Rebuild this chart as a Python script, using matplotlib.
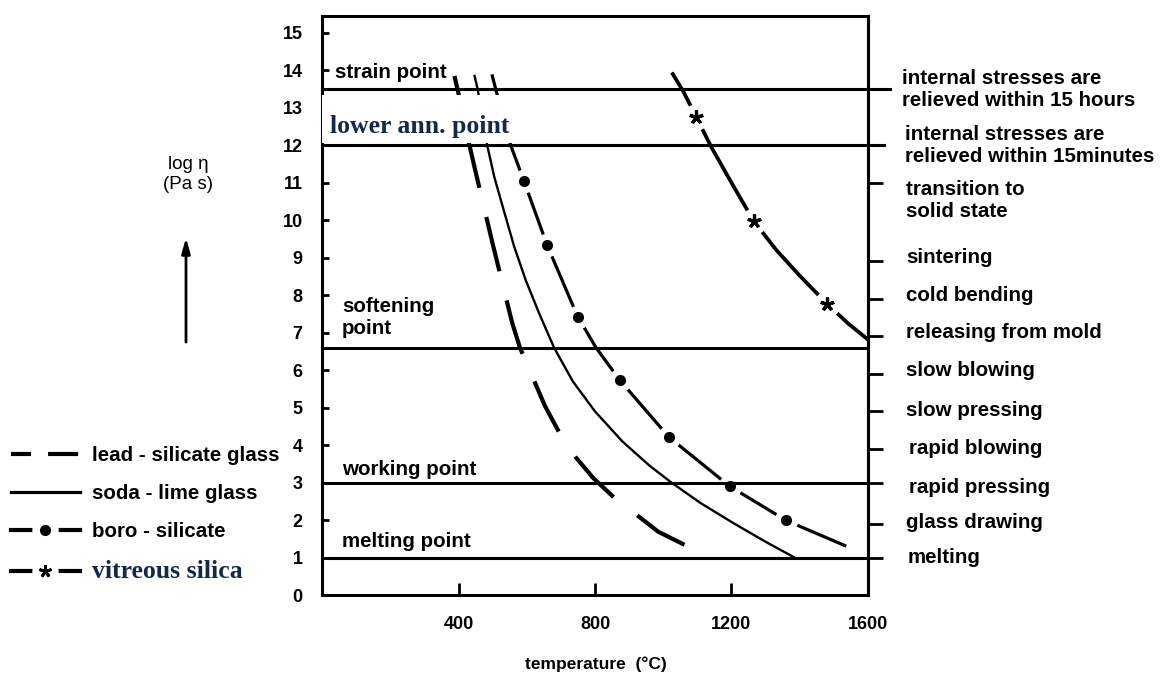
import matplotlib
matplotlib.use('Agg')
import matplotlib.pyplot as plt
from matplotlib.lines import Line2D
from matplotlib.legend_handler import HandlerTuple

plt.rcParams['font.family'] = ['Liberation Sans', 'DejaVu Sans']

# fixed viscosity points, log eta (Pa s)
ref_levels = [13.5, 12.0, 6.6, 3.0, 1.0]

# viscosity curves: temperature (C) vs log eta
lead_T = [388, 397, 432, 447, 499, 557, 580, 653, 695, 744, 795, 850, 985, 1126]
lead_v = [13.85, 13.5, 12.0, 11.41, 9.41, 7.27, 6.6, 5.05, 4.34, 3.67, 3.12, 2.65, 1.69, 1.05]
soda_T = [447, 456, 484, 505, 533, 563, 597, 637, 680, 735, 800, 880, 960, 1024,
          1110, 1209, 1300, 1385]
soda_v = [13.85, 13.5, 12.0, 11.15, 10.25, 9.3, 8.4, 7.5, 6.6, 5.7, 4.9, 4.1, 3.45, 3.0,
          2.45, 1.9, 1.42, 1.0]
boro_T = [499, 509, 553, 592, 659, 749, 803, 872, 1017, 1195, 1360, 1532]
boro_v = [13.85, 13.5, 12.0, 11.04, 9.35, 7.43, 6.6, 5.74, 4.21, 2.9, 1.99, 1.32]
boro_marks = [3, 4, 5, 7, 8, 9, 10]
silica_T = [1028, 1058, 1097, 1141, 1200, 1265, 1330, 1400, 1480, 1540, 1602]
silica_v = [13.9, 13.45, 12.75, 11.95, 11.0, 9.98, 9.22, 8.52, 7.77, 7.26, 6.8]
silica_marks = [2, 5, 8]

# processes on the right hand side
proc_ticks = [13.5, 12.0, 11.0, 8.9, 7.9, 6.9, 5.9, 4.9, 3.9, 3.0, 1.9, 1.0]
proc_labels = ['internal stresses are\nrelieved within 15 hours',
               'internal stresses are\nrelieved within 15minutes',
               'transition to\nsolid state', 'sintering', 'cold bending',
               'releasing from mold', 'slow blowing', 'slow pressing',
               'rapid blowing', 'rapid pressing', 'glass drawing', 'melting']
proc_y = [13.5, 12.0, 10.52, 9.0, 8.0, 7.0, 6.0, 4.92, 3.9, 2.87, 1.93, 1.0]
proc_x = [1.062, 1.068, 1.07, 1.07, 1.07, 1.07, 1.07, 1.07, 1.075, 1.075, 1.07, 1.072]

legend_labels = ['lead - silicate glass', 'soda - lime glass', 'boro - silicate',
                 'vitreous silica']

fs = 14.8
fig = plt.figure(figsize=(11.66, 6.75), dpi=100)
ax = fig.add_axes([0.2762, 0.1185, 0.4682, 0.8578])
ax.set_xlim(0, 1600)
ax.set_ylim(0, 15.45)

# curves
ax.plot(lead_T, lead_v, color='k', lw=3, ls=(6.5, (13.4, 7.2)), zorder=2)
ax.plot(soda_T, soda_v, color='k', lw=1.7, zorder=2)
ax.plot(boro_T, boro_v, color='k', lw=2.3, zorder=2)
ax.plot(boro_T, boro_v, ls='none', marker='o', ms=17, mfc='white', mec='none',
        markevery=boro_marks, zorder=2.5)
ax.plot(boro_T, boro_v, ls='none', marker='o', ms=7, color='k',
        markevery=boro_marks, zorder=5)
ax.plot(silica_T, silica_v, color='k', lw=2.7, zorder=2)
ax.plot(silica_T, silica_v, ls='none', marker='o', ms=19, mfc='white', mec='none',
        markevery=silica_marks, zorder=2.5)
ax.plot(silica_T, silica_v, ls='none', marker=(5, 2, 0), ms=10, mew=2.3, color='k',
        markevery=silica_marks, zorder=5)

# blank band behind "lower ann. point"
ax.axhspan(12.06, 13.33, xmin=0, xmax=0.44, color='white', lw=0, zorder=3)

# fixed-point lines
ext = [1.04, 1.03, 1.0, 1.0, 1.0]
for lv, xm in zip(ref_levels, ext):
    ax.axhline(lv, xmin=0, xmax=xm, color='k', lw=2.2, clip_on=False, zorder=4)

ax.text(38, 13.93, 'strain point', fontsize=fs, fontweight='bold', va='center', zorder=6)
ax.text(24, 12.5, 'lower ann. point', fontsize=18.5, fontweight='bold', va='center',
        family=['Liberation Serif'], color='#14284b', zorder=6)
ax.text(58, 7.4, 'softening\npoint', fontsize=fs, fontweight='bold', va='center',
        linespacing=1.22, zorder=6)
ax.text(58, 3.35, 'working point', fontsize=fs, fontweight='bold', va='center', zorder=6)
ax.text(58, 1.42, 'melting point', fontsize=fs, fontweight='bold', va='center', zorder=6)

# axes styling
for s in ax.spines.values():
    s.set_linewidth(2.2)
ax.set_yticks(range(0, 16))
ax.set_xticks([400, 800, 1200, 1600])
ax.tick_params(axis='y', direction='in', length=5, width=2, pad=14, labelsize=13)
ax.tick_params(axis='x', direction='in', length=9, width=2, pad=15, labelsize=13)
for lab in ax.get_xticklabels() + ax.get_yticklabels():
    lab.set_fontweight('bold')

rax = ax.secondary_yaxis('right')
rax.set_yticks(proc_ticks)
rax.set_yticklabels([])
rax.tick_params(direction='out', length=10.5, width=2)
rax.spines['right'].set_linewidth(2.2)

trans = ax.get_yaxis_transform()
for lab, yv, xo in zip(proc_labels, proc_y, proc_x):
    ax.text(xo, yv, lab, transform=trans, fontsize=fs, fontweight='bold',
            va='center', ha='left', linespacing=1.2)

fig.text(596 / 1166, 0.016, 'temperature  (°C)', fontsize=12.5, fontweight='bold',
         ha='center', va='center')
fig.text(188 / 1166, 0.741, 'log η\n(Pa s)', fontsize=13.5, ha='center', va='center',
         linespacing=1.25)
ax.annotate('', xy=(186 / 1166, 0.652), xytext=(186 / 1166, 0.489),
            xycoords='figure fraction', textcoords='figure fraction',
            arrowprops=dict(arrowstyle='-|>,head_length=0.9,head_width=0.25',
                            color='k', lw=2))

# legend
h_lead = Line2D([], [], color='k', lw=3, ls=(2.4, (7.2, 4.1)))
h_soda = Line2D([], [], color='k', lw=2.3)
h_boro = (Line2D([], [], color='k', lw=3),
          Line2D([], [], ls='none', marker='o', ms=19, mfc='white', mec='none'),
          Line2D([], [], ls='none', marker='o', ms=7, color='k'))
h_sil = (Line2D([], [], color='k', lw=3),
         Line2D([], [], ls='none', marker='o', ms=19, mfc='white', mec='none'),
         Line2D([], [], ls='none', marker=(5, 2, 0), ms=9, mew=2, color='k'))
leg = fig.legend([h_lead, h_soda, h_boro, h_sil], legend_labels,
                 loc='upper left', bbox_to_anchor=(11 / 1166, 1 - 446 / 675),
                 frameon=False, fontsize=fs, handlelength=3.35, handletextpad=0.6,
                 labelspacing=0.92, borderpad=0, borderaxespad=0, numpoints=1,
                 handler_map={tuple: HandlerTuple(ndivide=1)})
for t in leg.get_texts():
    t.set_fontweight('bold')
st = leg.get_texts()[3]
st.set_fontfamily(['Liberation Serif'])
st.set_fontsize(18.5)
st.set_color('#14284b')

fig.savefig('out.png', dpi=100)
